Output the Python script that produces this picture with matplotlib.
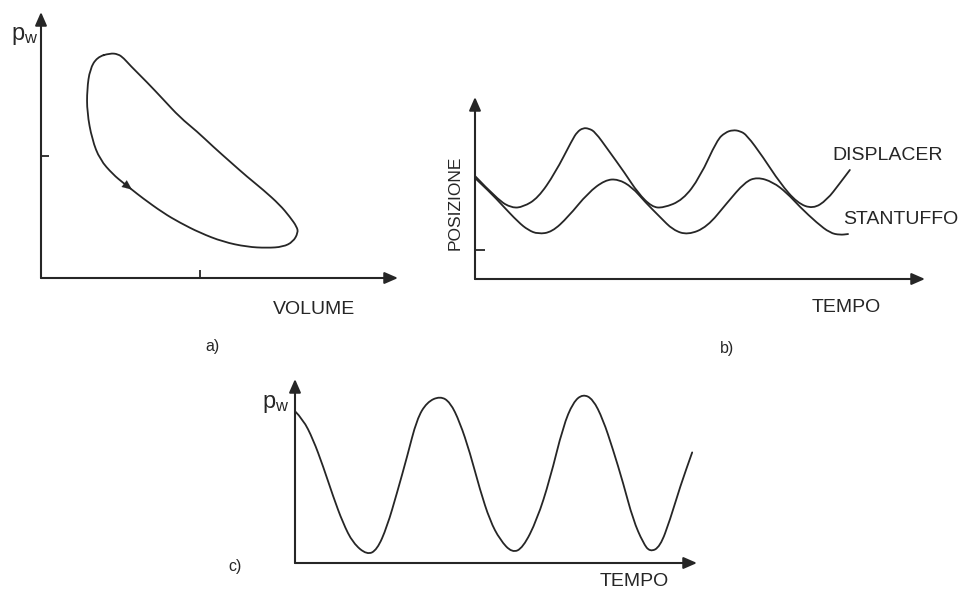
import matplotlib
matplotlib.use("Agg")
import matplotlib.pyplot as plt
from matplotlib.path import Path
from matplotlib.patches import PathPatch

plt.rcParams["font.family"] = ["Liberation Sans", "DejaVu Sans"]
plt.rcParams["mathtext.fontset"] = "custom"
plt.rcParams["mathtext.rm"] = "Liberation Sans"

INK = "#262626"

# ---------------- data ----------------
# a) p-V loop (volume, pressure) in axis units 0..100
loop_v = [19.3, 21.6, 23.2, 24.9, 29.7, 34.2, 38.9, 43.7, 48.2, 52.9, 57.7, 62.2,
          66.9, 69.7, 71.7, 72.0, 70.6, 67.8, 63.3, 57.7, 51.0, 44.5, 38.9, 34.2,
          28.3, 25.5, 23.0, 20.2, 16.5, 14.3, 12.9, 12.9, 13.7, 15.7, 19.3]
loop_p = [84.5, 84.2, 82.6, 80.0, 73.6, 67.2, 60.4, 55.1, 49.4, 43.8, 38.1, 33.2,
          27.5, 23.0, 19.2, 17.0, 13.6, 11.7, 11.3, 11.7, 13.6, 17.0, 20.8, 24.5,
          30.2, 33.2, 35.8, 38.9, 44.5, 52.1, 62.3, 70.9, 78.5, 83.0, 84.5]
loop_arrow_index = 26          # arrowhead drawn on the lower-left branch
a_xticks = [44.5]
a_yticks = [45.7]

# b) positions versus time
disp_t = [0.0, 5.1, 8.2, 10.7, 14.0, 17.8, 21.6, 22.7, 24.0, 25.3, 26.7, 29.6,
          33.3, 36.2, 39.3, 41.8, 46.2, 50.0, 53.8, 55.6, 57.3, 58.9, 60.4, 64.0,
          67.8, 71.6, 75.1, 78.2, 81.1, 83.3]
disp_y = [56.6, 43.4, 39.0, 39.6, 44.5, 58.2, 76.4, 80.8, 83.0, 82.7, 80.8, 70.9,
          58.2, 47.3, 39.6, 39.0, 43.4, 56.0, 76.4, 80.5, 81.9, 81.3, 79.1, 67.0,
          52.7, 41.8, 38.5, 43.4, 52.7, 59.9]
stan_t = [0.0, 3.3, 6.0, 9.6, 11.8, 14.0, 17.1, 20.7, 25.1, 28.9, 31.8, 34.9,
          37.8, 41.1, 44.0, 47.3, 51.6, 56.0, 60.0, 62.7, 66.2, 69.3, 72.2, 76.0,
          78.9, 81.1, 82.9]
stan_y = [55.5, 47.8, 40.7, 31.3, 26.9, 24.7, 25.8, 34.1, 47.3, 54.4, 54.9, 50.5,
          42.3, 34.1, 26.9, 24.2, 28.6, 41.8, 53.3, 56.0, 53.3, 47.3, 39.6, 30.8,
          25.3, 24.2, 24.7]
b_yticks = [15.9]

# c) pressure versus time
pw_t = [0.0, 2.0, 4.5, 7.0, 9.5, 11.9, 14.4, 17.9, 20.4, 22.9, 25.4, 27.9, 30.3,
        32.8, 36.1, 38.6, 41.0, 43.5, 46.0, 48.5, 51.0, 54.0, 56.7, 60.2, 63.4,
        66.7, 69.2, 71.6, 74.1, 76.6, 79.1, 81.6, 84.1, 86.6, 88.3, 90.8, 93.3,
        95.8, 98.8]
pw_y = [82.5, 78.1, 67.2, 52.5, 36.1, 21.9, 10.9, 4.4, 7.1, 19.7, 38.3, 57.9, 78.1,
        87.4, 90.7, 87.4, 76.5, 60.1, 39.9, 23.0, 12.6, 5.5, 8.2, 23.5, 45.4,
        74.3, 87.4, 91.8, 89.1, 78.1, 61.7, 43.7, 23.5, 10.9, 6.0, 8.7, 23.5,
        41.5, 60.1]

# ---------------- figure ----------------
W, H = 967, 590
fig = plt.figure(figsize=(W / 100, H / 100), dpi=100)
fig.patch.set_facecolor("white")


def fx(px):
    return px / W


def fy(py):
    return 1 - py / H


def make_axes(left, right, top, bottom):
    return fig.add_axes([fx(left), fy(bottom), (right - left) / W, (bottom - top) / H])


def style(ax, xticks, yticks, ticklen):
    ax.set_xlim(0, 100)
    ax.set_ylim(0, 100)
    for s in ax.spines.values():
        s.set_visible(False)
    ax.set_xticks(xticks)
    ax.set_yticks(yticks)
    ax.tick_params(direction="in", length=ticklen, width=1.3, color=INK,
                   labelleft=False, labelbottom=False)
    ax.patch.set_alpha(0)
    arrow = dict(arrowstyle="-|>,head_length=0.8,head_width=0.35", lw=1.5,
                 color=INK, shrinkA=0, shrinkB=0)
    ax.annotate("", xy=(1, 0), xytext=(0, 0), xycoords="axes fraction",
                arrowprops=arrow, annotation_clip=False)
    ax.annotate("", xy=(0, 1), xytext=(0, 0), xycoords="axes fraction",
                arrowprops=arrow, annotation_clip=False)


LW = 1.3


def smooth_curve(ax, xs, ys, closed=False):
    """Draw a smooth quadratic-Bezier curve using the read points as control points."""
    pts = list(zip(xs, ys))
    mid = lambda a, b: ((a[0] + b[0]) / 2, (a[1] + b[1]) / 2)
    verts, codes = [], []
    if closed:
        pts = pts[:-1]
        n = len(pts)
        verts.append(mid(pts[-1], pts[0]))
        codes.append(Path.MOVETO)
        for i in range(n):
            verts += [pts[i], mid(pts[i], pts[(i + 1) % n])]
            codes += [Path.CURVE3, Path.CURVE3]
    else:
        verts.append(pts[0])
        codes.append(Path.MOVETO)
        for i in range(1, len(pts) - 1):
            verts += [pts[i], mid(pts[i], pts[i + 1])]
            codes += [Path.CURVE3, Path.CURVE3]
        verts.append(pts[-1])
        codes.append(Path.LINETO)
    patch = PathPatch(Path(verts, codes), facecolor="none", edgecolor=INK,
                      lw=LW, capstyle="round", joinstyle="round",
                      transform=ax.transData)
    ax.add_patch(patch)


# panel a
axa = make_axes(41, 398, 12, 278)
style(axa, a_xticks, a_yticks, 6)
smooth_curve(axa, loop_v, loop_p, closed=True)
k = loop_arrow_index
axa.annotate("", xy=(loop_v[k - 1], loop_p[k - 1]), xytext=(loop_v[k], loop_p[k]),
             arrowprops=dict(arrowstyle="-|>,head_length=0.7,head_width=0.3",
                             lw=0.1, color=INK, shrinkA=0, shrinkB=0))

# panel b
axb = make_axes(475, 925, 97, 279)
style(axb, [], b_yticks, 7)
smooth_curve(axb, disp_t, disp_y)
smooth_curve(axb, stan_t, stan_y)

# panel c
axc = make_axes(295, 697, 379, 563)
style(axc, [], [], 0)
smooth_curve(axc, pw_t, pw_y)

# ---------------- texts ----------------
fs = 14
fig.text(fx(11), fy(36), r"$\mathregular{p_w}$", fontsize=17, color=INK, ha="left", va="center")
fig.text(fx(314), fy(310), "VOLUME", fontsize=fs, color=INK, ha="center", va="center")
fig.text(fx(212), fy(347), "a)", fontsize=11.5, color=INK, ha="center", va="center")

fig.text(fx(455), fy(203), "POSIZIONE", fontsize=12.5, color=INK, ha="center",
         va="center", rotation=90)
fig.text(fx(832), fy(155), "DISPLACER", fontsize=fs, color=INK, ha="left", va="center")
fig.text(fx(843), fy(220), "STANTUFFO", fontsize=fs, color=INK, ha="left", va="center")
fig.text(fx(812), fy(307), "TEMPO", fontsize=fs, color=INK, ha="left", va="center")
fig.text(fx(727), fy(348), "b)", fontsize=11.5, color=INK, ha="center", va="center")

fig.text(fx(262), fy(404), r"$\mathregular{p_w}$", fontsize=17, color=INK, ha="left", va="center")
fig.text(fx(235), fy(567), "c)", fontsize=11.5, color=INK, ha="center", va="center")
fig.text(fx(600), fy(582), "TEMPO", fontsize=fs, color=INK, ha="left", va="center")

fig.savefig("out.png", dpi=100, facecolor="white")
